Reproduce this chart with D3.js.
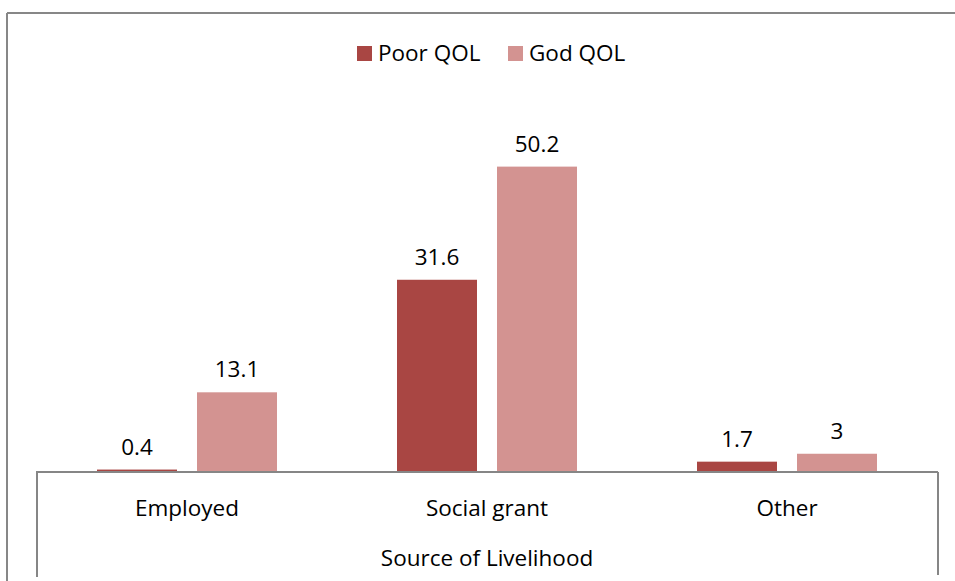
<!DOCTYPE html>
<html>
<head>
<meta charset="utf-8">
<script src="https://cdn.jsdelivr.net/npm/d3@7"></script>
<style>
  html, body { margin: 0; padding: 0; background: #ffffff; }
  svg { display: block; }
  text { font-family: "Open Sans", "Noto Sans", sans-serif; fill: #000; }
</style>
</head>
<body>
<svg id="chart" width="955" height="581"></svg>
<script>
// Source of livelihood by quality of life (%)
const categories = ["Employed", "Social grant", "Other"];
const seriesNames = ["Poor QOL", "God QOL"];
const poorQOL = [0.4, 31.6, 1.7];
const goodQOL = [13.1, 50.2, 3];
const axisTitle = "Source of Livelihood";

const colors = ["#A94643", "#D39391"];
const seriesValues = [poorQOL, goodQOL];
const fontSize = "22.5px";

const svg = d3.select("#chart");
const W = 955, H = 581;

// Outer chart frame (top and left edges visible)
svg.append("line").attr("x1", 7).attr("x2", W).attr("y1", 13).attr("y2", 13)
  .attr("stroke", "#878787").attr("stroke-width", 2);
svg.append("line").attr("x1", 7).attr("x2", 7).attr("y1", 13).attr("y2", H)
  .attr("stroke", "#878787").attr("stroke-width", 2);

const plot = { left: 37, right: 937, top: 107, bottom: 472 };

const x0 = d3.scaleBand().domain(categories).range([plot.left, plot.right]).padding(0);
const band = x0.bandwidth();
// two bars with a gap inside the middle 60% of each category band
const x1 = d3.scaleBand().domain(seriesNames)
  .range([0.2 * band, 0.8 * band]).paddingInner(0.2).paddingOuter(0);

const y = d3.scaleLinear().domain([0, 60]).range([plot.bottom, plot.top]);

const rows = categories.map((c, i) => ({
  cat: c,
  vals: seriesNames.map((s, j) => ({ series: s, j, value: seriesValues[j][i] }))
}));

const groups = svg.append("g").selectAll("g").data(rows).join("g")
  .attr("transform", d => `translate(${x0(d.cat)},0)`);

groups.selectAll("rect").data(d => d.vals).join("rect")
  .attr("x", d => x1(d.series))
  .attr("width", x1.bandwidth())
  .attr("y", d => y(d.value))
  .attr("height", d => y(0) - y(d.value))
  .attr("fill", d => colors[d.j]);

groups.selectAll("text.val").data(d => d.vals).join("text")
  .attr("class", "val")
  .attr("x", d => x1(d.series) + x1.bandwidth() / 2)
  .attr("y", d => y(d.value) - 15)
  .attr("text-anchor", "middle")
  .style("font-size", fontSize)
  .text(d => d.value);

// Category axis with a two-level frame
const axisColor = "#868686";
const axisG = svg.append("g");
axisG.append("line").attr("x1", plot.left - 1).attr("x2", plot.right + 1)
  .attr("y1", plot.bottom).attr("y2", plot.bottom)
  .attr("stroke", axisColor).attr("stroke-width", 2);
axisG.append("line").attr("x1", plot.left).attr("x2", plot.left)
  .attr("y1", plot.bottom).attr("y2", 577)
  .attr("stroke", axisColor).attr("stroke-width", 2);
axisG.append("line").attr("x1", plot.right + 1).attr("x2", plot.right + 1)
  .attr("y1", plot.bottom).attr("y2", 575)
  .attr("stroke", axisColor).attr("stroke-width", 2);

axisG.selectAll("text.cat").data(categories).join("text")
  .attr("class", "cat")
  .attr("x", d => x0(d) + band / 2)
  .attr("y", 516)
  .attr("text-anchor", "middle")
  .style("font-size", fontSize)
  .text(d => d);

axisG.append("text")
  .attr("x", (plot.left + plot.right) / 2)
  .attr("y", 566)
  .attr("text-anchor", "middle")
  .style("font-size", fontSize)
  .text(axisTitle);

// Legend
const legendItems = [
  { name: seriesNames[0], color: colors[0], x: 357 },
  { name: seriesNames[1], color: colors[1], x: 508 }
];
const lg = svg.append("g").selectAll("g").data(legendItems).join("g");
lg.append("rect").attr("x", d => d.x).attr("y", 46).attr("width", 15).attr("height", 15)
  .attr("fill", d => d.color);
lg.append("text").attr("x", d => d.x + 21).attr("y", 61)
  .style("font-size", fontSize)
  .text(d => d.name);
</script>
</body>
</html>
